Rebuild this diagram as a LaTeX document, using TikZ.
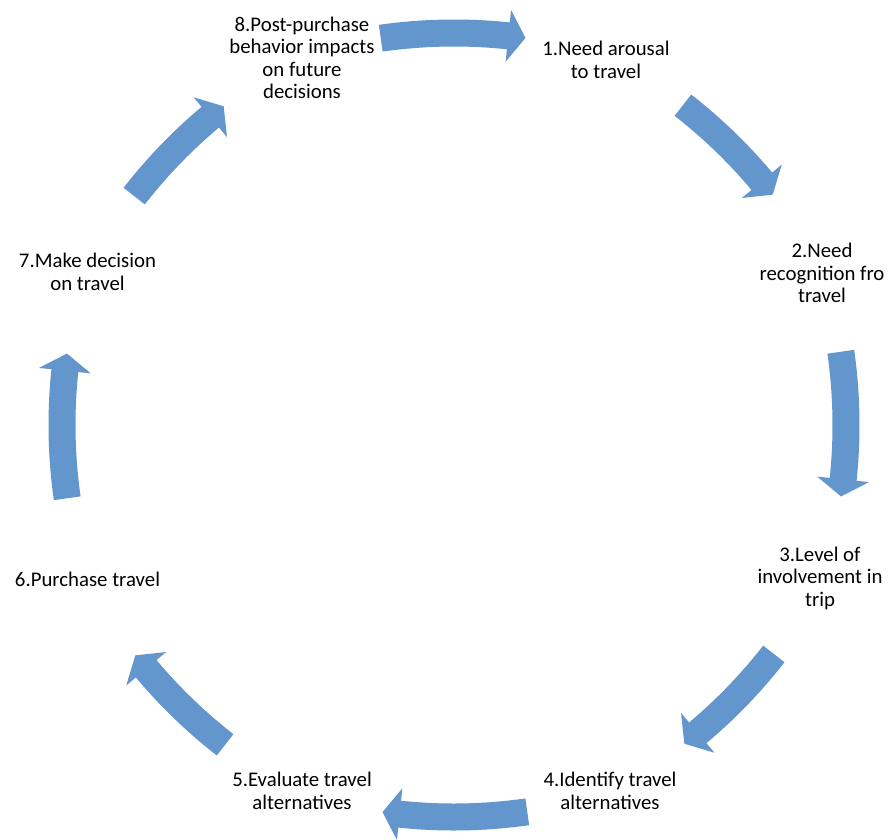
\documentclass[tikz,border=0pt]{standalone}
\usepackage{fontspec}
\setmainfont{Carlito}
\definecolor{arrowblue}{RGB}{98,150,205}
\tikzset{
  lbl/.style={align=center, inner sep=0pt, font=\fontsize{20.8}{22.5}\selectfont, text=black},
  cyclearrow/.style={fill=arrowblue, draw=none}
}
\begin{document}
\begin{tikzpicture}[x=1pt,y=1pt]
\fill[white] (0,0) rectangle (891,-839);
\useasboundingbox (0,0) rectangle (891,-839);
\coordinate (ctr) at (454,-425);
% curved block arrows, clockwise (diagonal ones slightly shorter)
\foreach \k/\ta/\ha/\pa in {0/98.1/84/82.1, 1/97.1/85/83.1, 2/98.1/84/82.1, 3/97.1/85/83.1,
                            4/98.1/84/82.1, 5/97.1/85/83.1, 6/98.1/84/82.1, 7/97.1/85/83.1}{
  \begin{scope}[shift={(ctr)}, rotate=-45*\k, shift={(0,-128)}]
    \path[cyclearrow] (\ta:533.5) arc[start angle=\ta, end angle=\ha, radius=533.5]
      -- (\ha:546) -- (\pa:520) -- (\ha:494) -- (\ha:506.5)
      arc[start angle=\ha, end angle=\ta, radius=506.5] -- cycle;
  \end{scope}
}
\node[lbl] (t1) at (606,-60) {1.Need arousal\\to travel};
\node[lbl] (t2) at (822,-273) {2.Need\\recognition fro\\travel};
\node[lbl] (t3) at (820,-578) {3.Level of\\involvement in\\trip};
\node[lbl] (t4) at (610,-791) {4.Identify travel\\alternatives};
\node[lbl] (t5) at (302,-791) {5.Evaluate travel\\alternatives};
\node[lbl] (t6) at (87.5,-579) {6.Purchase travel};
\node[lbl] (t7) at (87.5,-272) {7.Make decision\\on travel};
\node[lbl] (t8) at (302,-58) {8.Post-purchase\\behavior impacts\\on future\\decisions};
\end{tikzpicture}
\end{document}
